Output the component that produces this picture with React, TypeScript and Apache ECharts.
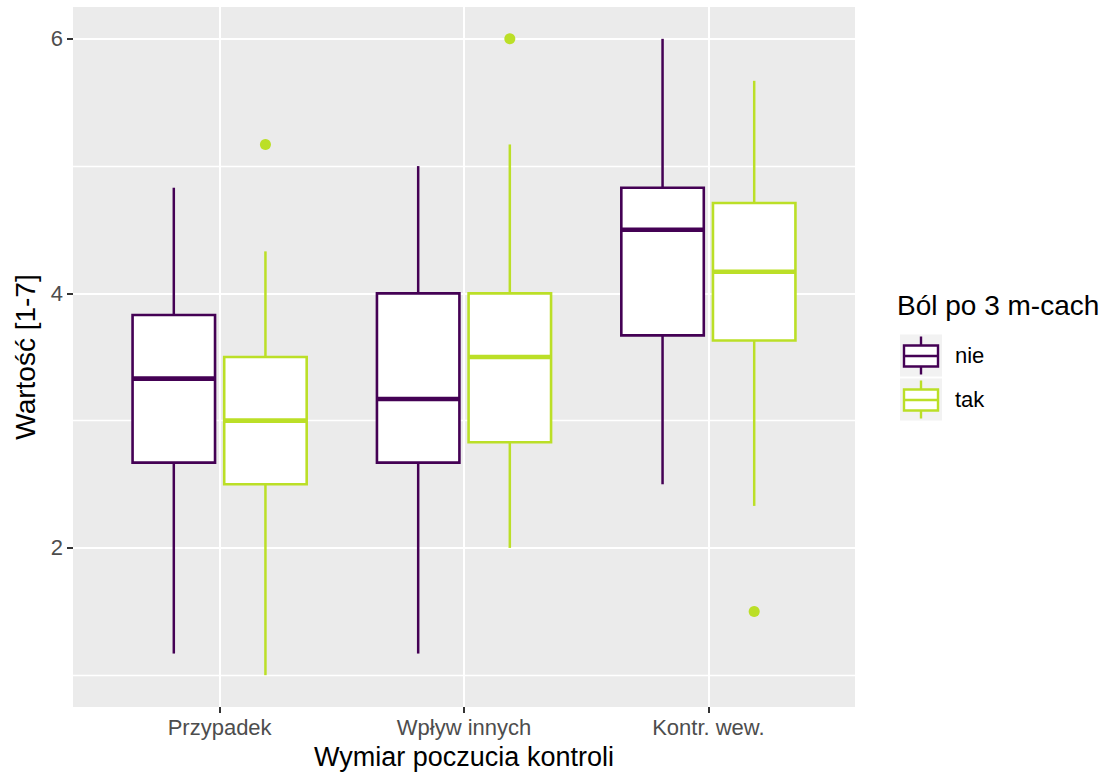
import React, { useEffect, useRef } from "react";
import * as echarts from "echarts";

const categories = ["Przypadek", "Wpływ innych", "Kontr. wew."];
const groups = ["nie", "tak"];
const groupColors = ["#440154", "#BBDF27"];

// [low whisker, Q1, median, Q3, high whisker] per category
const nieStats = [
  [1.17, 2.67, 3.33, 3.83, 4.83],
  [1.17, 2.67, 3.17, 4.0, 5.0],
  [2.5, 3.67, 4.5, 4.83, 6.0],
];
const takStats = [
  [1.0, 2.5, 3.0, 3.5, 4.33],
  [2.0, 2.83, 3.5, 4.0, 5.17],
  [2.33, 3.63, 4.17, 4.71, 5.67],
];
// outliers: [category index, value]
const nieOutliers: number[][] = [];
const takOutliers = [
  [0, 5.17],
  [1, 6.0],
  [2, 1.5],
];
const yTicks = [2, 4, 6];
const yMinorTicks = [1, 3, 5];

const DODGE = 0.1875;
const BOX_W = 0.3375;

export default function App() {
  const ref = useRef<HTMLDivElement>(null);
  useEffect(() => {
    if (!ref.current) return;
    const chart = echarts.init(ref.current, null, { renderer: "svg" });
    const statsList = [nieStats, takStats];
    const outList = [nieOutliers, takOutliers];

    const boxSeries = groups.map((g, gi) => ({
      type: "custom",
      name: g,
      z: 3,
      data: statsList[gi].map((s, ci) => [ci + 1 + (gi === 0 ? -DODGE : DODGE), ...s]),
      encode: { x: 0, y: [1, 2, 3, 4, 5] },
      renderItem: (params: any, api: any) => {
        const x = api.value(0);
        const low = api.coord([x, api.value(1)]);
        const q1 = api.coord([x, api.value(2)]);
        const med = api.coord([x, api.value(3)]);
        const q3 = api.coord([x, api.value(4)]);
        const high = api.coord([x, api.value(5)]);
        const hw = api.size([BOX_W, 0])[0] / 2;
        const color = groupColors[gi];
        return {
          type: "group",
          children: [
            {
              type: "line",
              shape: { x1: low[0], y1: low[1], x2: q1[0], y2: q1[1] },
              style: { stroke: color, lineWidth: 2.5 },
            },
            {
              type: "line",
              shape: { x1: q3[0], y1: q3[1], x2: high[0], y2: high[1] },
              style: { stroke: color, lineWidth: 2.5 },
            },
            {
              type: "rect",
              shape: { x: q3[0] - hw, y: q3[1], width: hw * 2, height: q1[1] - q3[1] },
              style: { fill: "#FFFFFF", stroke: color, lineWidth: 2.6 },
            },
            {
              type: "line",
              shape: { x1: med[0] - hw, y1: med[1], x2: med[0] + hw, y2: med[1] },
              style: { stroke: color, lineWidth: 4.6 },
            },
          ],
        };
      },
    }));

    const outlierSeries = groups.map((g, gi) => ({
      type: "scatter",
      name: g + " outliers",
      z: 4,
      symbol: "circle",
      symbolSize: 11,
      itemStyle: { color: groupColors[gi], opacity: 1 },
      data: outList[gi].map((o) => [o[0] + 1 + (gi === 0 ? -DODGE : DODGE), o[1]]),
    }));

    const keyGroup = (top: number, color: string) => ({
      type: "group",
      left: 900,
      top,
      children: [
        { type: "rect", shape: { x: 0, y: 0, width: 42, height: 42 }, style: { fill: "#F2F2F2" } },
        { type: "line", shape: { x1: 21, y1: 2, x2: 21, y2: 40 }, style: { stroke: color, lineWidth: 2.4 } },
        {
          type: "rect",
          shape: { x: 4, y: 11, width: 34, height: 21 },
          style: { fill: "#FFFFFF", stroke: color, lineWidth: 2.4 },
        },
        { type: "line", shape: { x1: 4, y1: 21.5, x2: 38, y2: 21.5 }, style: { stroke: color, lineWidth: 2.4 } },
      ],
    });

    chart.setOption({
      animation: false,
      backgroundColor: "#FFFFFF",
      textStyle: { fontFamily: "Liberation Sans, Arial, sans-serif" },
      grid: {
        left: 73,
        right: 260,
        top: 7,
        bottom: 69,
        show: true,
        backgroundColor: "#EBEBEB",
        borderWidth: 0,
      },
      xAxis: {
        type: "value",
        min: 0.4,
        max: 3.6,
        name: "Wymiar poczucia kontroli",
        nameLocation: "middle",
        nameGap: 36,
        nameTextStyle: { fontSize: 27, color: "#000000" },
        axisLine: { show: false },
        axisTick: { show: true, customValues: [1, 2, 3], length: 6, lineStyle: { color: "#333333", width: 2 } },
        axisLabel: {
          customValues: [1, 2, 3],
          formatter: (v: number) => categories[Math.round(v) - 1] ?? "",
          fontSize: 22,
          color: "#4D4D4D",
          margin: 9,
        },
        splitLine: { show: true, lineStyle: { color: "#FFFFFF", width: 2 } },
      },
      yAxis: [
        {
          type: "value",
          min: 0.75,
          max: 6.25,
          name: "Wartość [1-7]",
          nameLocation: "middle",
          nameGap: 32,
          nameRotate: 90,
          nameTextStyle: { fontSize: 28, color: "#000000" },
          axisLine: { show: false },
          axisTick: { show: true, customValues: yTicks, length: 6, lineStyle: { color: "#333333", width: 2 } },
          axisLabel: { customValues: yTicks, fontSize: 22, color: "#4D4D4D", margin: 10 },
          splitLine: { show: true, lineStyle: { color: "#FFFFFF", width: 2 } },
        },
        {
          type: "value",
          min: 0.75,
          max: 6.25,
          position: "left",
          axisLine: { show: false },
          axisTick: { show: false, customValues: yMinorTicks },
          axisLabel: { show: false, customValues: yMinorTicks },
          splitLine: { show: true, lineStyle: { color: "#FFFFFF", width: 1.3 } },
        },
      ],
      series: [...boxSeries, ...outlierSeries],
      graphic: [
        {
          type: "text",
          left: 897,
          top: 291,
          style: { text: "Ból po 3 m-cach", fontSize: 28, fill: "#000000", fontFamily: "Liberation Sans, Arial, sans-serif" },
        },
        keyGroup(334, groupColors[0]),
        keyGroup(378, groupColors[1]),
        {
          type: "text",
          left: 955,
          top: 344,
          style: { text: groups[0], fontSize: 22, fill: "#000000", fontFamily: "Liberation Sans, Arial, sans-serif" },
        },
        {
          type: "text",
          left: 955,
          top: 388,
          style: { text: groups[1], fontSize: 22, fill: "#000000", fontFamily: "Liberation Sans, Arial, sans-serif" },
        },
      ],
    });
    return () => chart.dispose();
  }, []);
  return (
    <div
      ref={ref}
      style={{ position: "fixed", left: 0, top: 0, width: 1115, height: 776, background: "#FFFFFF" }}
    />
  );
}
